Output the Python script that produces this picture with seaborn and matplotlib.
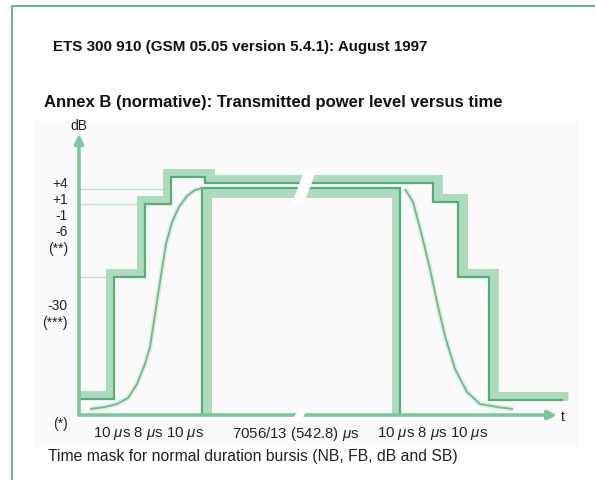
import numpy as np
import pandas as pd
import matplotlib
matplotlib.use("Agg")
import matplotlib.pyplot as plt
import seaborn as sns
from matplotlib.patches import Polygon, Rectangle

# diagram units: x = position along t axis, y = level above the t axis
upper_t = [0, 35, 35, 66, 66, 92, 92, 126, 126, 354, 354, 379, 379, 410, 410, 484]
upper_lvl = [16, 16, 138, 138, 211, 211, 238, 238, 232, 232, 213, 213, 138, 138, 15, 15]
lower_t = [123, 123, 321, 321]
lower_lvl = [0, 227, 227, 0]
rise_t = [11, 26, 38, 49, 58, 66, 71, 75, 79, 83, 87, 93, 100, 108, 116, 124]
rise_lvl = [6, 8, 11, 17, 31, 51, 68, 94, 120, 146, 171, 193, 208, 219, 225, 227]
fall_t = [326, 334, 343, 351, 358, 366, 376, 388, 401, 418, 434]
fall_lvl = [226, 213, 179, 146, 113, 79, 46, 23, 11, 8, 6]

level_labels = ["+4", "+1", "-1", "-6", "(**)", "-30", "(***)", "(*)"]
level_pos = [232, 216, 200, 184, 167, 110, 93, -8]
time_labels = [r"10 $\mu$s 8 $\mu$s 10 $\mu$s", r"7056/13 (542.8) $\mu$s",
               r"10 $\mu$s 8 $\mu$s 10 $\mu$s"]
time_pos = [14, 153, 298]

title = "ETS 300 910 (GSM 05.05 version 5.4.1): August 1997"
subtitle = "Annex B (normative): Transmitted power level versus time"
caption = "Time mask for normal duration bursis (NB, FB, dB and SB)"

dark = "#55ad7c"
band = "#a6d7b8"
axis_col = "#7cc69c"
frame = "#4cb87c"

sns.set_theme(style="white")
plt.rcParams["font.family"] = ["Liberation Sans", "DejaVu Sans"]
plt.rcParams["mathtext.fontset"] = "custom"
plt.rcParams["mathtext.rm"] = "Liberation Sans"
plt.rcParams["mathtext.it"] = "Liberation Sans:italic"

fig = plt.figure(figsize=(5.95, 4.81), dpi=100)
ax = fig.add_axes([0, 0, 1, 1])
ax.set_xlim(-79, 516)
ax.set_ylim(-65, 416)
ax.axis("off")

# page frame + faint panel
ax.plot([-67, -67, 516], [-65, 409, 409], color=frame, lw=1.3, solid_capstyle="butt")
ax.add_patch(Rectangle((-44, -32), 543, 326, color="#fafafa", zorder=0, lw=0))

# offsets of the light band toward the forbidden side
h = 4.5
ut = np.array(upper_t, float)
ul = np.array(upper_lvl, float)
sx = np.where(np.arange(len(ut)) < 7, -1, 1)
ut_band = np.clip(ut + sx * h, 0, None)
ul_band = ul + h
lt = np.array(lower_t, float)
ll = np.array(lower_lvl, float)
lt_band = lt + np.array([1, 1, -1, -1]) * h
ll_band = ll + np.array([0, -1, -1, 0]) * h

# guide lines
for lv, end in [(211, 92), (138, 35), (226, 92)]:
    ax.plot([0, end], [lv, lv], color=axis_col, lw=1, alpha=0.45)

kw = dict(sort=False, estimator=None, ax=ax, legend=False)
sns.lineplot(x=ut_band, y=ul_band, color=band, linewidth=6.5, alpha=0.9, **kw)
sns.lineplot(x=lt_band, y=ll_band, color=band, linewidth=6.5, alpha=0.9, **kw)
sns.lineplot(x=rise_t, y=rise_lvl, color=band, linewidth=3.5, alpha=0.35, **kw)
sns.lineplot(x=fall_t, y=fall_lvl, color=band, linewidth=3.5, alpha=0.35, **kw)
sns.lineplot(x=ut, y=ul, color=dark, linewidth=1.6, **kw)
sns.lineplot(x=lt, y=ll, color=dark, linewidth=1.6, **kw)
sns.lineplot(x=rise_t, y=rise_lvl, color="#6cba8e", linewidth=1.3, **kw)
sns.lineplot(x=fall_t, y=fall_lvl, color="#6cba8e", linewidth=1.3, **kw)
for ln in ax.lines:
    ln.set_solid_joinstyle("miter")
    ln.set_solid_capstyle("butt")

# axes arrows
arrow = dict(arrowstyle="-|>", color=axis_col, lw=2.6, mutation_scale=13, shrinkA=0, shrinkB=0)
ax.annotate("", xy=(0, 281), xytext=(0, 0), arrowprops=arrow)
ax.annotate("", xy=(478, 0), xytext=(0, 0), arrowprops=arrow)

# breaks in the long useful part
ax.add_patch(Polygon([(213, 212), (225, 212), (238, 246), (226, 246)],
                     color="white", zorder=5, lw=0))
ax.add_patch(Polygon([(213, -6), (222, -6), (229, 7), (220, 7)],
                     color="white", zorder=5, lw=0))

ax.text(0, 290, "dB", ha="center", va="center", fontsize=10, color="#222222")
ax.text(482, -1, "t", ha="left", va="center", fontsize=10, color="#222222")
for lab, pos in zip(level_labels, level_pos):
    ax.text(-11, pos, lab, ha="right", va="center", fontsize=10, color="#222222")
for lab, pos in zip(time_labels, time_pos):
    ax.text(pos, -18, lab, ha="left", va="center", fontsize=10.8, color="#222222")

ax.text(-26, 369, title, ha="left", va="center", fontsize=10.9, fontweight="bold", color="#111111")
ax.text(-35, 314, subtitle, ha="left", va="center", fontsize=12, fontweight="bold", color="#111111")
ax.text(-31, -41, caption, ha="left", va="center", fontsize=11.3, color="#222222")

fig.savefig("out.png", dpi=100)
